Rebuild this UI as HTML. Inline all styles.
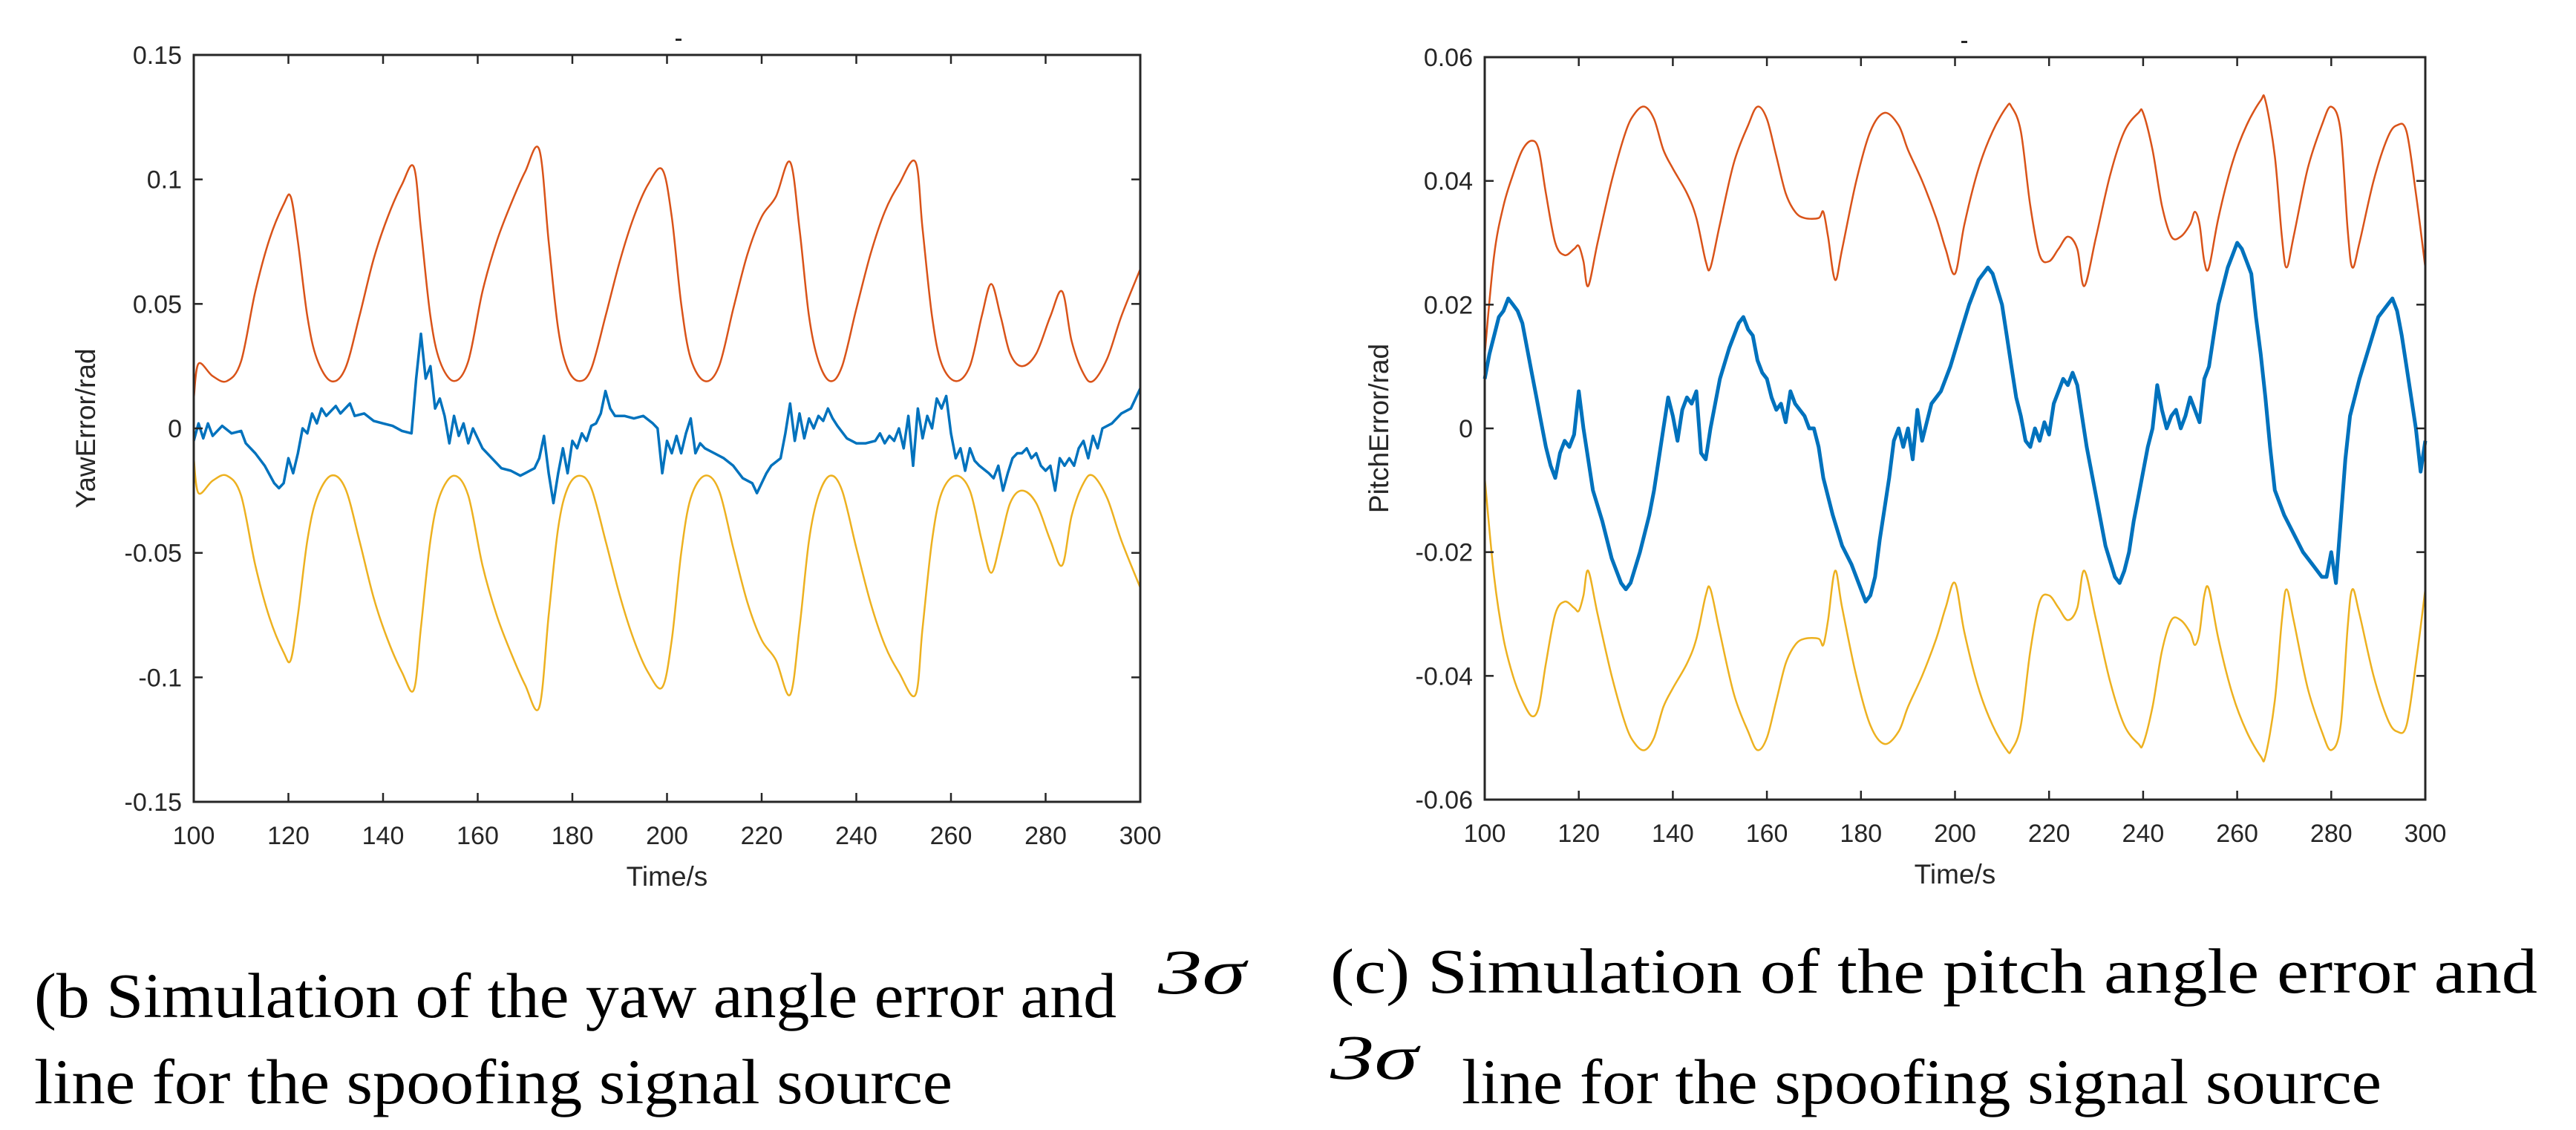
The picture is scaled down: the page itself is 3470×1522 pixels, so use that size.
<!DOCTYPE html>
<html><head><meta charset="utf-8"><style>
html,body{margin:0;padding:0;background:#fff;}
svg{display:block;}
.tk{font-family:"Liberation Sans",sans-serif;font-size:34px;fill:#262626;}
.lab{font-family:"Liberation Sans",sans-serif;font-size:37px;fill:#262626;}
.cap{font-family:"Liberation Serif",serif;font-size:86px;fill:#000;}
</style></head><body>
<svg id="root" width="3470" height="1522" viewBox="0 0 3470 1522" xmlns="http://www.w3.org/2000/svg">
<g id="chartL"></g>
<g id="chartR"></g>
<text class="cap" x="46" y="1370" textLength="1458" lengthAdjust="spacingAndGlyphs">(b Simulation of the yaw angle error and</text>
<text class="cap" x="1560" y="1338" textLength="118" lengthAdjust="spacingAndGlyphs" font-style="italic">3σ</text>
<text class="cap" x="46" y="1486" textLength="1237" lengthAdjust="spacingAndGlyphs">line for the spoofing signal source</text>
<text class="cap" x="1792" y="1337" textLength="1626" lengthAdjust="spacingAndGlyphs">(c) Simulation of the pitch angle error and</text>
<text class="cap" x="1792" y="1453" textLength="118" lengthAdjust="spacingAndGlyphs" font-style="italic">3σ</text>
<text class="cap" x="1969" y="1486" textLength="1239" lengthAdjust="spacingAndGlyphs">line for the spoofing signal source</text>
</svg>
<script>
const xTicks=[100,120,140,160,180,200,220,240,260,280,300];
const yTicksL=[0.15,0.1,0.05,0,-0.05,-0.1,-0.15];
const yTickLabelsL=["0.15","0.1","0.05","0","-0.05","-0.1","-0.15"];
const yTicksR=[0.06,0.04,0.02,0,-0.02,-0.04,-0.06];
const yTickLabelsR=["0.06","0.04","0.02","0","-0.02","-0.04","-0.06"];

const yawUpperT=[100,101,104,107,110,113,116,119,120.5,122,124,126,129,132,135,138,141,144,146.5,148,150,152,155,158,161,164,167,170,173,175,177,179,181.5,184,187,190,193,196,199,201,203,205,208,211,214,217,220,223,226,228,230,232,234.5,237,240,243,246,249,252.5,254,256,258,261,264,266.5,268.5,270.5,272.5,275,278,281,283.5,285.5,288,290,293,296,300];
const yawUpperV=[0.012,0.026,0.021,0.019,0.027,0.055,0.076,0.090,0.093,0.075,0.045,0.028,0.019,0.024,0.045,0.068,0.085,0.098,0.105,0.080,0.045,0.027,0.019,0.027,0.055,0.075,0.090,0.103,0.112,0.075,0.040,0.024,0.019,0.024,0.045,0.067,0.085,0.098,0.104,0.085,0.050,0.028,0.019,0.025,0.048,0.070,0.085,0.093,0.107,0.080,0.045,0.027,0.019,0.025,0.048,0.070,0.087,0.098,0.107,0.080,0.045,0.026,0.019,0.025,0.045,0.058,0.045,0.030,0.025,0.030,0.045,0.055,0.035,0.022,0.019,0.028,0.045,0.064];
const yawLowerT=yawUpperT;
const yawLowerV=[-0.012,-0.026,-0.021,-0.019,-0.027,-0.055,-0.076,-0.090,-0.093,-0.075,-0.045,-0.028,-0.019,-0.024,-0.045,-0.068,-0.085,-0.098,-0.105,-0.080,-0.045,-0.027,-0.019,-0.027,-0.055,-0.075,-0.090,-0.103,-0.112,-0.075,-0.040,-0.024,-0.019,-0.024,-0.045,-0.067,-0.085,-0.098,-0.104,-0.085,-0.050,-0.028,-0.019,-0.025,-0.048,-0.070,-0.085,-0.093,-0.107,-0.080,-0.045,-0.027,-0.019,-0.025,-0.048,-0.070,-0.087,-0.098,-0.107,-0.080,-0.045,-0.026,-0.019,-0.025,-0.045,-0.058,-0.045,-0.030,-0.025,-0.030,-0.045,-0.055,-0.035,-0.022,-0.019,-0.028,-0.045,-0.064];
const yawErrT=[100,101,102,103,104,106,108,110,111,113,115,117,118,119,120,121,122,123,124,125,126,127,128,130,131,132,133,134,136,138,140,142,144,146,147,148,149,150,151,152,153,154,155,156,157,158,159,160,161,163,165,167,169,170,172,173,174,175,176,177,178,179,180,181,182,183,184,185,186,187,188,189,191,193,195,197,198,199,200,201,202,203,204,205,206,207,208,210,212,214,216,218,219,220,221,222,224,225,226,227,228,229,230,231,232,233,234,235,236,238,240,242,244,245,246,247,248,249,250,251,252,253,254,255,256,257,258,259,260,261,262,263,264,265,266,268,269,270,271,272,273,274,275,276,277,278,279,280,281,282,283,284,285,286,287,288,289,290,291,292,294,296,298,300];
const yawErrV=[-0.005,0.002,-0.004,0.002,-0.003,0.001,-0.002,-0.001,-0.006,-0.010,-0.015,-0.022,-0.024,-0.022,-0.012,-0.018,-0.010,0,-0.002,0.006,0.002,0.008,0.005,0.009,0.006,0.008,0.010,0.005,0.006,0.003,0.002,0.001,-0.001,-0.002,0.020,0.038,0.020,0.025,0.008,0.012,0.005,-0.006,0.005,-0.003,0.002,-0.006,0,-0.004,-0.008,-0.012,-0.016,-0.017,-0.019,-0.018,-0.016,-0.012,-0.003,-0.018,-0.030,-0.018,-0.008,-0.018,-0.005,-0.008,-0.002,-0.005,0.001,0.002,0.006,0.015,0.008,0.005,0.005,0.004,0.005,0.002,0,-0.018,-0.005,-0.010,-0.003,-0.010,-0.002,0.004,-0.010,-0.006,-0.008,-0.010,-0.012,-0.015,-0.020,-0.022,-0.026,-0.022,-0.018,-0.015,-0.012,-0.002,0.010,-0.005,0.006,-0.004,0.004,0,0.005,0.003,0.008,0.004,0.001,-0.004,-0.006,-0.006,-0.005,-0.002,-0.006,-0.003,-0.005,0,-0.008,0.005,-0.015,0.008,-0.004,0.005,0,0.012,0.008,0.013,-0.002,-0.012,-0.008,-0.017,-0.008,-0.013,-0.015,-0.018,-0.020,-0.015,-0.025,-0.018,-0.012,-0.010,-0.010,-0.008,-0.012,-0.010,-0.015,-0.017,-0.015,-0.025,-0.012,-0.015,-0.012,-0.015,-0.008,-0.005,-0.012,-0.003,-0.008,0,0.002,0.006,0.008,0.016];

const pitchUpperT=[100,102,104,106,108,110,111.5,113,115,117,119,120,121,122,124,127,130,132,134,136,138,140,143,145,147,148,150,153,156,158,160,162,164,166,168,171,172,173,174.5,176,179,182,185,188,190,193,196,198,200,202,205,208,211,212,214,216,218,220,222,224,226,227.5,230,233,236,239,240,242,244,246,248,250,251,252,253,254,256,259,262,265,266,268,269.5,270.5,272,275,278,280,282,283.5,284.5,286,289,292,294,296,298,300];
const pitchUpperV=[0.012,0.028,0.036,0.041,0.045,0.0465,0.045,0.038,0.030,0.028,0.029,0.0295,0.027,0.023,0.030,0.040,0.048,0.051,0.052,0.050,0.045,0.042,0.038,0.034,0.027,0.026,0.033,0.043,0.049,0.052,0.050,0.044,0.038,0.035,0.034,0.034,0.035,0.031,0.024,0.029,0.040,0.048,0.051,0.049,0.045,0.040,0.034,0.029,0.025,0.033,0.042,0.048,0.052,0.052,0.048,0.036,0.028,0.027,0.029,0.031,0.029,0.023,0.031,0.041,0.048,0.051,0.051,0.045,0.036,0.031,0.031,0.033,0.035,0.033,0.027,0.026,0.034,0.043,0.049,0.053,0.053,0.044,0.031,0.026,0.031,0.042,0.049,0.052,0.048,0.032,0.026,0.030,0.040,0.047,0.049,0.048,0.038,0.026];
const pitchLowerT=pitchUpperT;
const pitchLowerV=[-0.008,-0.024,-0.034,-0.040,-0.044,-0.0465,-0.045,-0.038,-0.030,-0.028,-0.029,-0.0295,-0.027,-0.023,-0.030,-0.040,-0.048,-0.051,-0.052,-0.050,-0.045,-0.042,-0.038,-0.034,-0.027,-0.026,-0.033,-0.043,-0.049,-0.052,-0.050,-0.044,-0.038,-0.035,-0.034,-0.034,-0.035,-0.031,-0.023,-0.029,-0.040,-0.048,-0.051,-0.049,-0.045,-0.040,-0.034,-0.029,-0.025,-0.033,-0.042,-0.048,-0.052,-0.052,-0.048,-0.036,-0.028,-0.027,-0.029,-0.031,-0.029,-0.023,-0.031,-0.041,-0.048,-0.051,-0.051,-0.045,-0.036,-0.031,-0.031,-0.033,-0.035,-0.033,-0.027,-0.026,-0.034,-0.043,-0.049,-0.053,-0.053,-0.044,-0.031,-0.026,-0.031,-0.042,-0.049,-0.052,-0.048,-0.032,-0.026,-0.030,-0.040,-0.047,-0.049,-0.048,-0.038,-0.026];
const pitchErrT=[100,101,102,103,104,105,106,107,108,109,110,111,112,113,114,115,116,117,118,119,120,121,122,123,125,127,129,130,131,133,134,135,136,137,138,139,140,141,142,143,144,145,146,147,148,150,152,154,155,156,157,158,159,160,161,162,163,164,165,166,167,168,169,170,171,172,174,176,178,180,181,182,183,184,185,186,187,188,189,190,191,192,193,195,197,199,201,203,205,207,208,210,211,212,213,214,215,216,217,218,219,220,221,222,223,224,225,226,227,228,230,232,234,235,236,237,238,239,240,241,242,243,244,245,246,247,248,249,250,251,252,253,254,255,256,257,258,259,260,261,262,263,264,265,266,267,268,269,270,272,274,276,278,279,280,281,282,283,284,285,286,288,290,292,293,294,295,296,297,298,299,300];
const pitchErrV=[0.008,0.012,0.015,0.018,0.019,0.021,0.020,0.019,0.017,0.013,0.009,0.005,0.001,-0.003,-0.006,-0.008,-0.004,-0.002,-0.003,-0.001,0.006,0,-0.005,-0.010,-0.015,-0.021,-0.025,-0.026,-0.025,-0.020,-0.017,-0.014,-0.010,-0.005,0,0.005,0.002,-0.002,0.003,0.005,0.004,0.006,-0.004,-0.005,0,0.008,0.013,0.017,0.018,0.016,0.015,0.011,0.009,0.008,0.005,0.003,0.004,0.001,0.006,0.004,0.003,0.002,0,0,-0.003,-0.008,-0.014,-0.019,-0.022,-0.026,-0.028,-0.027,-0.024,-0.018,-0.013,-0.008,-0.002,0,-0.003,0,-0.005,0.003,-0.002,0.004,0.006,0.010,0.015,0.020,0.024,0.026,0.025,0.020,0.015,0.010,0.005,0.002,-0.002,-0.003,0,-0.002,0.001,-0.001,0.004,0.006,0.008,0.007,0.009,0.007,0.002,-0.003,-0.011,-0.019,-0.024,-0.025,-0.023,-0.020,-0.015,-0.011,-0.007,-0.003,0,0.007,0.003,0,0.002,0.003,0,0.002,0.005,0.003,0.001,0.008,0.010,0.015,0.020,0.023,0.026,0.028,0.030,0.029,0.027,0.025,0.018,0.012,0.005,-0.003,-0.010,-0.012,-0.014,-0.017,-0.020,-0.022,-0.024,-0.024,-0.020,-0.025,-0.015,-0.005,0.002,0.005,0.008,0.013,0.018,0.020,0.021,0.019,0.015,0.010,0.005,0,-0.007,-0.002];

const NS="http://www.w3.org/2000/svg";
function mk(tag,attrs,parent){const e=document.createElementNS(NS,tag);for(const k in attrs)e.setAttribute(k,attrs[k]);parent.appendChild(e);return e;}
function smoothPath(xs,ys){let d="M"+xs[0].toFixed(1)+","+ys[0].toFixed(1);const n=xs.length;
 for(let i=0;i<n-1;i++){const x0=xs[Math.max(i-1,0)],y0=ys[Math.max(i-1,0)],x1=xs[i],y1=ys[i],x2=xs[i+1],y2=ys[i+1],x3=xs[Math.min(i+2,n-1)],y3=ys[Math.min(i+2,n-1)];
 const c1x=x1+(x2-x0)/6,c1y=y1+(y2-y0)/6,c2x=x2-(x3-x1)/6,c2y=y2-(y3-y1)/6;
 d+=" C"+c1x.toFixed(1)+","+c1y.toFixed(1)+" "+c2x.toFixed(1)+","+c2y.toFixed(1)+" "+x2.toFixed(1)+","+y2.toFixed(1);}return d;}
function linePath(xs,ys){return xs.map((x,i)=>(i?"L":"M")+x.toFixed(1)+","+ys[i].toFixed(1)).join(" ");}

function drawChart(g,cfg){
 const {L,R,T,B,ymin,ymax,yTicks,yLabels,ylabel,labX,titleX,blueW,series}=cfg;
 const xs=t=>L+(t-100)/200*(R-L);
 const ys=v=>B-(v-ymin)/(ymax-ymin)*(B-T);
 // data
 series.forEach(s=>{
  const px=s.t.map(xs),py=s.v.map(ys);
  const p=mk("path",{d:s.smooth?smoothPath(px,py):linePath(px,py),fill:"none",stroke:s.color,"stroke-width":s.w,"stroke-linejoin":"round"},g);
  
  
 });
 // box
 const box=mk("rect",{x:L,y:T,width:R-L,height:B-T,fill:"none",stroke:"#262626","stroke-width":3},g);
 
 
 xTicks.forEach(t=>{const x=xs(t);
  mk("line",{x1:x,y1:B,x2:x,y2:B-12,stroke:"#262626","stroke-width":2.5},g);
  mk("line",{x1:x,y1:T,x2:x,y2:T+12,stroke:"#262626","stroke-width":2.5},g);
  const tx=mk("text",{x:x,y:B+57,"text-anchor":"middle",class:"tk"},g);tx.textContent=t;
  
  
 });
 yTicks.forEach((v,i)=>{const y=ys(v);
  mk("line",{x1:L,y1:y,x2:L+12,y2:y,stroke:"#262626","stroke-width":2.5},g);
  mk("line",{x1:R,y1:y,x2:R-12,y2:y,stroke:"#262626","stroke-width":2.5},g);
  const tx=mk("text",{x:L-16,y:y+12,"text-anchor":"end",class:"tk"},g);tx.textContent=yLabels[i];
  
  
 });
 const xl=mk("text",{x:(L+R)/2,y:B+113,"text-anchor":"middle",class:"lab"},g);xl.textContent="Time/s";
 
 
 const yl=mk("text",{x:0,y:0,"text-anchor":"middle",class:"lab",transform:"translate("+labX+","+((T+B)/2)+") rotate(-90)"},g);yl.textContent=ylabel;
 
 
 const tt=mk("rect",{x:titleX,y:T-22,width:8,height:3,fill:"#262626"},g);
 
 
}
drawChart(document.getElementById("chartL"),{L:261,R:1536,T:74,B:1080,ymin:-0.15,ymax:0.15,yTicks:yTicksL,yLabels:yTickLabelsL,ylabel:"YawError/rad",labX:128,titleX:910,
 series:[{t:yawUpperT,v:yawUpperV,color:"#D95319",w:2.5,smooth:true,name:"upper-3sigma-line"},
         {t:yawLowerT,v:yawLowerV,color:"#EDB120",w:2.5,smooth:true,name:"lower-3sigma-line"},
         {t:yawErrT,v:yawErrV,color:"#0072BD",w:3.5,smooth:false,name:"yaw-error-line"}]});
drawChart(document.getElementById("chartR"),{L:2000,R:3267,T:77,B:1077,ymin:-0.06,ymax:0.06,yTicks:yTicksR,yLabels:yTickLabelsR,ylabel:"PitchError/rad",labX:1870,titleX:2642,
 series:[{t:pitchUpperT,v:pitchUpperV,color:"#D95319",w:2.5,smooth:true,name:"upper-3sigma-line"},
         {t:pitchLowerT,v:pitchLowerV,color:"#EDB120",w:2.5,smooth:true,name:"lower-3sigma-line"},
         {t:pitchErrT,v:pitchErrV,color:"#0072BD",w:5,smooth:false,name:"pitch-error-line"}]});
</script>
</body></html>
